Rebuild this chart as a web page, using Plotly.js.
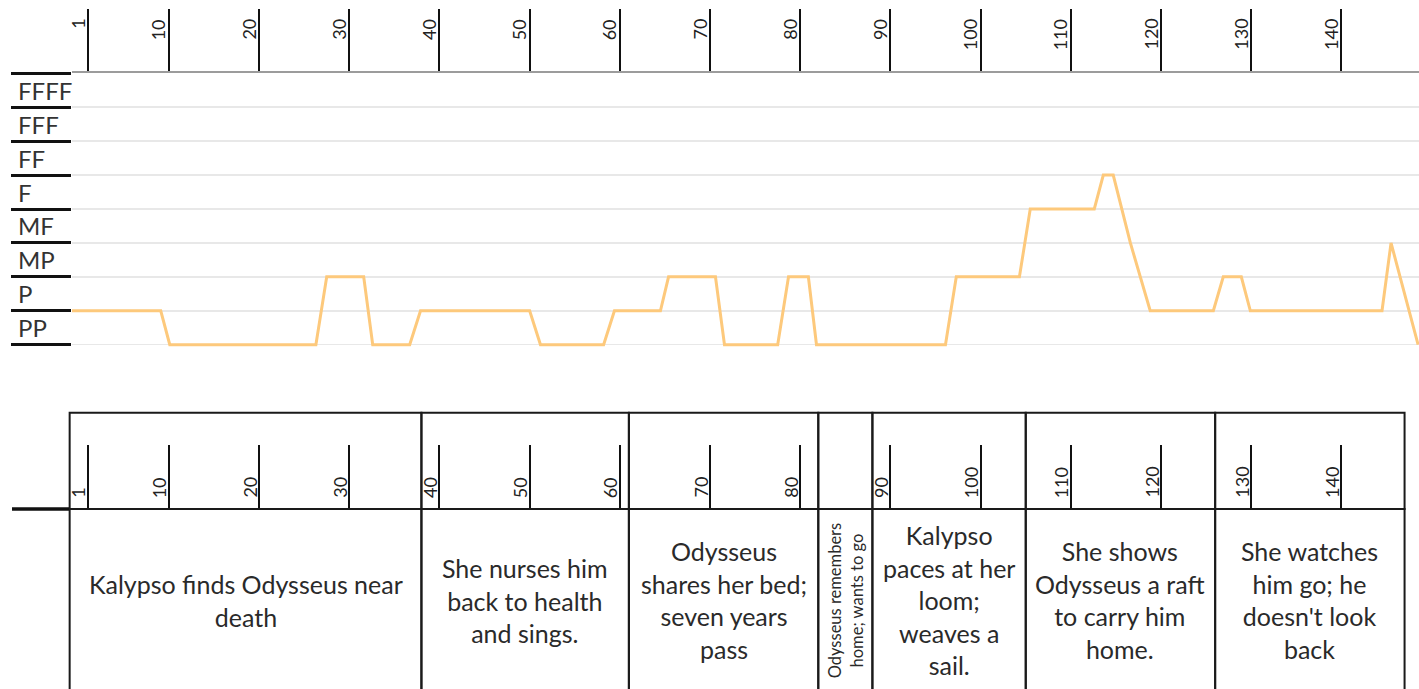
<!DOCTYPE html>
<html>
<head>
<meta charset="utf-8">
<script src="https://cdn.plot.ly/plotly-3.0.1.min.js"></script>
<style>html,body{margin:0;padding:0;background:#fff;}#chart{width:1419px;height:689px;}</style>
</head>
<body>
<div id="chart"></div>
<script>
// ---- data ----
const levels = ['PP', 'P', 'MP', 'MF', 'F', 'FF', 'FFF', 'FFFF'];
const measureX = [-1, 9.1, 10.1, 26.3, 27.5, 31.6, 32.6, 36.7, 37.9, 50.0, 51.2, 58.2, 59.4, 64.5, 65.4,
  70.6, 71.6, 77.5, 78.7, 80.9, 81.8, 96.1, 97.3, 104.3, 105.5, 112.6, 113.6, 114.7, 116.6, 118.8,
  125.8, 126.9, 128.9, 129.9, 144.5, 145.5, 148.5];
const dynamics = ['P', 'P', 'PP', 'PP', 'MP', 'MP', 'PP', 'PP', 'P', 'P', 'PP', 'PP', 'P', 'P', 'MP',
  'MP', 'PP', 'PP', 'MP', 'MP', 'PP', 'PP', 'MP', 'MP', 'F', 'F', 'FF', 'FF', 'MF', 'P',
  'P', 'MP', 'MP', 'P', 'P', 'MF', 'PP'];
const tickVals = [1, 10, 20, 30, 40, 50, 60, 70, 80, 90, 100, 110, 120, 130, 140];
const tickLabels = ['1', '10', '20', '30', '40', '50', '60', '70', '80', '90', '100', '110', '120', '130', '140'];
const sectionStart = [-1, 38, 61, 82, 88, 105, 126];
const sectionEnd = [38, 61, 82, 88, 105, 126, 147];
const sectionText = [
  'Kalypso finds Odysseus near<br>death',
  'She nurses him<br>back to health<br>and sings.',
  'Odysseus<br>shares her bed;<br>seven years<br>pass',
  'Odysseus remembers<br>home; wants to go',
  'Kalypso<br>paces at her<br>loom;<br>weaves a<br>sail.',
  'She shows<br>Odysseus a raft<br>to carry him<br>home.',
  'She watches<br>him go; he<br>doesn\'t look<br>back'
];

// ---- layout geometry ----
const W = 1419, H = 689;
const FONT = 'Lato, "Open Sans", sans-serif';
const xRange = [-0.74, 148.6];
const xDom = [72 / W, 1];
const pxPerUnit = (W * (xDom[1] - xDom[0])) / (xRange[1] - xRange[0]);
const x2Dom = [60 / W, 1];
const x2Range = [xRange[0] - (W * (xDom[0] - x2Dom[0])) / pxPerUnit, xRange[1]];
const yDom = [1 - 354.7 / H, 1 - 73.3 / H];
const headTop = 1 - 412.7 / H, headBot = 1 - 509 / H;

const traces = [
  {
    x: measureX, y: dynamics.map(d => levels.indexOf(d)),
    type: 'scatter', mode: 'lines', xaxis: 'x', yaxis: 'y',
    line: {color: '#fdc97c', width: 3}, hoverinfo: 'skip'
  },
  {x: [], y: [], type: 'scatter', mode: 'lines', xaxis: 'x2', yaxis: 'y2', hoverinfo: 'skip'}
];

const annotations = [];
tickVals.forEach((v, i) => {
  annotations.push({
    xref: 'x', x: v, yref: 'paper', y: 1 - 17 / H, xanchor: 'right', yanchor: 'top', xshift: 3,
    textangle: -90, text: tickLabels[i], showarrow: false,
    font: {family: FONT, size: 18, color: '#222'}
  });
  annotations.push({
    xref: 'x2', x: v, yref: 'paper', y: (H - 500) / H, xanchor: 'right', yanchor: 'bottom', xshift: 3,
    textangle: -90, text: tickLabels[i], showarrow: false,
    font: {family: FONT, size: 18, color: '#222'}
  });
});
levels.forEach((lv, k) => {
  annotations.push({
    xref: 'paper', x: 16 / W, xanchor: 'left', yref: 'y', y: k + 0.5, yanchor: 'middle',
    text: lv, showarrow: false, font: {family: FONT, size: 24, color: '#333'}
  });
});

const shapes = [];
sectionText.forEach((t, i) => {
  const s = sectionStart[i], e = sectionEnd[i];
  const narrow = (e - s) < 10;
  shapes.push({type: 'rect', xref: 'x2', yref: 'paper', x0: s, x1: e, y0: headBot, y1: headTop,
    line: {color: '#1a1a1a', width: 2}});
  shapes.push({type: 'rect', xref: 'x2', yref: 'paper', x0: s, x1: e, y0: -0.05, y1: headBot,
    line: {color: '#1a1a1a', width: 2}});
  annotations.push({
    xref: 'x2', x: (s + e) / 2, yref: 'paper', y: (H - 600) / H, xanchor: 'center', yanchor: 'middle',
    text: t, showarrow: false, textangle: narrow ? -90 : 0, align: 'center',
    font: {family: FONT, size: narrow ? 16.5 : 25, color: '#2a2a2a'}
  });
});
shapes.push({type: 'line', xref: 'paper', yref: 'paper', x0: 12 / W, x1: 69 / W, y0: headBot, y1: headBot,
  line: {color: '#111', width: 3.5}});

const layout = {
  width: W, height: H, margin: {l: 0, r: 0, t: 0, b: 0},
  paper_bgcolor: '#fff', plot_bgcolor: '#fff', showlegend: false,
  font: {family: FONT},
  xaxis: {
    domain: xDom, range: xRange, side: 'top', anchor: 'y',
    ticks: 'outside', ticklen: 62, tickwidth: 2, tickcolor: '#111',
    tickmode: 'array', tickvals: tickVals, showticklabels: false,
    showline: true, linecolor: '#9c9c9c', linewidth: 2,
    showgrid: false, zeroline: false, fixedrange: true
  },
  yaxis: {
    domain: yDom, range: [-0.295, 8], anchor: 'x',
    tickmode: 'array', tickvals: [0, 1, 2, 3, 4, 5, 6, 7, 8],
    ticks: 'outside', ticklen: 60, tickwidth: 3, tickcolor: '#111', showticklabels: false,
    showgrid: true, gridcolor: '#e8e8e8', gridwidth: 1.5, zeroline: false, showline: false, fixedrange: true
  },
  xaxis2: {
    domain: x2Dom, range: x2Range, side: 'bottom', anchor: 'y2',
    ticks: 'inside', ticklen: 64, tickwidth: 2, tickcolor: '#111',
    tickmode: 'array', tickvals: tickVals, showticklabels: false,
    showline: false, showgrid: false, zeroline: false, fixedrange: true
  },
  yaxis2: {
    domain: [headBot, headTop], range: [0, 1], anchor: 'x2',
    showticklabels: false, ticks: '', showgrid: false, zeroline: false, showline: false, fixedrange: true
  },
  shapes: shapes,
  annotations: annotations
};

Plotly.newPlot('chart', traces, layout, {displayModeBar: false, staticPlot: true});
</script>
</body>
</html>
